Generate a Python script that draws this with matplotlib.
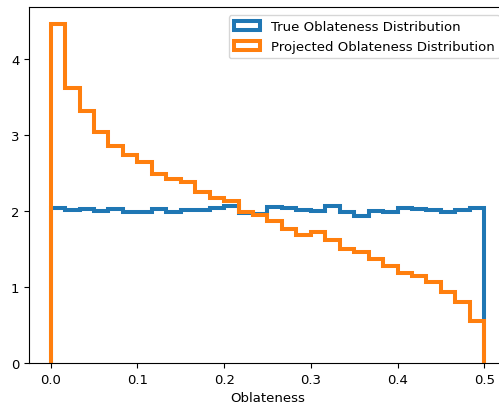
import matplotlib
matplotlib.use('Agg')
import matplotlib.pyplot as plt
import numpy as np

# 30 bins between 0 and 0.5 (density values)
bin_edges = np.linspace(0, 0.5, 31)

true_density = [2.04, 2.01, 2.02, 2.00, 2.03, 1.99, 1.99, 2.03, 1.98, 2.01,
                2.01, 2.04, 2.06, 1.97, 1.96, 2.05, 2.04, 2.01, 2.00, 2.07,
                1.99, 1.94, 2.00, 1.98, 2.04, 2.02, 2.01, 1.99, 2.01, 2.04]

projected_density = [4.46, 3.62, 3.32, 3.04, 2.85, 2.74, 2.645, 2.49, 2.42, 2.38,
                     2.25, 2.17, 2.13, 1.99, 1.95, 1.87, 1.76, 1.68, 1.72, 1.62,
                     1.50, 1.46, 1.37, 1.28, 1.18, 1.14, 1.06, 0.93, 0.80, 0.55]

labels = ['True Oblateness Distribution', 'Projected Oblateness Distribution']

plt.rcParams['font.size'] = 9.5

fig = plt.figure(figsize=(4.99, 4.06), dpi=100)
# the original picture is cut on the right, so the axes run past the edge
ax = fig.add_axes([29 / 499, 42 / 406, 477 / 499, 356 / 406])

centers = bin_edges[:-1]
ax.hist(centers, bins=bin_edges, weights=true_density, histtype='step',
        linewidth=2.9, label=labels[0])
ax.hist(centers, bins=bin_edges, weights=projected_density, histtype='step',
        linewidth=2.9, label=labels[1])

ax.set_xlabel('Oblateness')
ax.legend(loc='upper right', bbox_to_anchor=(500 / 499, 1 - 16 / 406),
          bbox_transform=fig.transFigure, borderaxespad=0)

fig.savefig('out.png', dpi=100)
